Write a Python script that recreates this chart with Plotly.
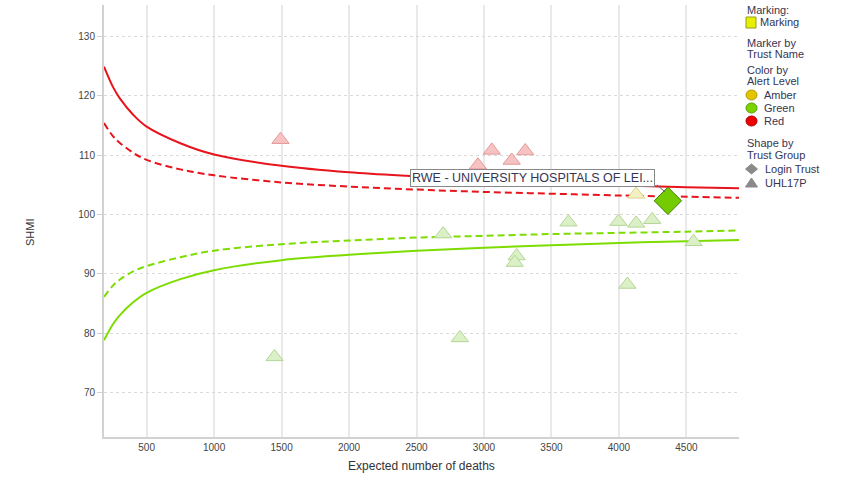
import plotly.graph_objects as go

# ---------------- data ----------------
limit_x = [184, 250, 300, 400, 500, 750, 1000, 1500, 2000, 2500, 3000, 3500, 4000, 4500, 4890]
upper_998 = [124.9, 121.5, 119.6, 116.8, 114.8, 112.0, 110.1, 108.2, 107.1, 106.4, 105.8, 105.3, 104.9, 104.6, 104.4]
upper_95 = [115.4, 113.2, 112.1, 110.4, 109.2, 107.6, 106.6, 105.4, 104.7, 104.2, 103.8, 103.5, 103.2, 103.0, 102.8]
lower_95 = [86.1, 88.0, 89.0, 90.4, 91.3, 92.8, 93.9, 95.0, 95.6, 96.1, 96.4, 96.7, 96.9, 97.1, 97.3]
lower_998 = [78.8, 81.5, 83.0, 85.2, 86.8, 89.1, 90.6, 92.3, 93.2, 93.9, 94.4, 94.8, 95.2, 95.5, 95.7]

red_x = [1492, 2955, 3058, 3205, 3306]
red_y = [112.6, 108.3, 110.8, 109.1, 110.7]

amber_x = [4128]
amber_y = [103.4]

green_x = [1448, 2697, 2821, 3242, 3228, 3626, 3997, 4128, 4247, 4063, 4553]
green_y = [76.0, 96.7, 79.2, 93.0, 91.9, 98.7, 98.8, 98.5, 99.1, 88.2, 95.4]

login_x = [4363]
login_y = [102.3]
login_name = "RWE - UNIVERSITY HOSPITALS OF LEI..."

x_ticks = [500, 1000, 1500, 2000, 2500, 3000, 3500, 4000, 4500]
y_ticks = [70, 80, 90, 100, 110, 120, 130]

# ---------------- layout geometry ----------------
W, H = 843, 478
L, R, T, B = 104, 104, 5, 41
PW, PH = W - L - R, H - T - B


def px(x):
    return (x - L) / PW


def py(y):
    return (H - B - y) / PH


FONT = "Liberation Sans, Arial, sans-serif"
RED = "#e8141c"
GREEN = "#7ddc00"
TXT = "#353552"

fig = go.Figure()

line_dash = "7px,4px"
fig.add_trace(go.Scatter(x=limit_x, y=upper_998, mode="lines", line=dict(color=RED, width=2, shape="spline"), hoverinfo="skip"))
fig.add_trace(go.Scatter(x=limit_x, y=upper_95, mode="lines", line=dict(color=RED, width=2, dash=line_dash, shape="spline"), hoverinfo="skip"))
fig.add_trace(go.Scatter(x=limit_x, y=lower_95, mode="lines", line=dict(color=GREEN, width=2, dash=line_dash, shape="spline"), hoverinfo="skip"))
fig.add_trace(go.Scatter(x=limit_x, y=lower_998, mode="lines", line=dict(color=GREEN, width=2, shape="spline"), hoverinfo="skip"))

fig.add_trace(go.Scatter(x=red_x, y=red_y, mode="markers",
                         marker=dict(symbol="triangle-up", size=15, color="#f6c2c2",
                                     line=dict(color="#e39a9a", width=1))))
fig.add_trace(go.Scatter(x=green_x, y=green_y, mode="markers",
                         marker=dict(symbol="triangle-up", size=15, color="#dcf0c8",
                                     line=dict(color="#b3d696", width=1))))
fig.add_trace(go.Scatter(x=amber_x, y=amber_y, mode="markers",
                         marker=dict(symbol="triangle-up", size=15, color="#f4f0c4",
                                     line=dict(color="#dcd48c", width=1))))
fig.add_trace(go.Scatter(x=login_x, y=login_y, mode="markers",
                         marker=dict(symbol="diamond", size=21, color="#74cc00",
                                     line=dict(color="#3f7d00", width=1))))

annotations = []
annotations.append(dict(x=login_x[0], y=login_y[0], xref="x", yref="y", text=login_name,
                        showarrow=False, xshift=-135, yshift=23,
                        xanchor="center", yanchor="middle",
                        bgcolor="white", bordercolor="#888", borderwidth=1, borderpad=1,
                        font=dict(family=FONT, size=12.5, color=TXT)))

# legend texts
leg = [
    ("Marking:", 745, 10),
    ("Marking", 758, 22),
    ("Marker by", 745, 43),
    ("Trust Name", 745, 54),
    ("Color by", 745, 70),
    ("Alert Level", 745, 81),
    ("Amber", 762, 95),
    ("Green", 762, 108),
    ("Red", 762, 121),
    ("Shape by", 745, 143),
    ("Trust Group", 745, 155),
    ("Login Trust", 763, 169),
    ("UHL17P", 763, 183),
]
for t, x, y in leg:
    annotations.append(dict(x=px(x), y=py(y), xref="paper", yref="paper", text=t,
                            showarrow=False, xanchor="left", yanchor="middle",
                            font=dict(family=FONT, size=11, color=TXT)))

annotations.append(dict(x=px(30), y=py(232), xref="paper", yref="paper", text="SHMI",
                        textangle=-90, showarrow=False, xanchor="center", yanchor="middle",
                        font=dict(family=FONT, size=11, color="#333")))

shapes = []
# leader line from label to diamond
shapes.append(dict(type="line", xref="x", yref="y", xsizemode="pixel", ysizemode="pixel",
                   xanchor=login_x[0], yanchor=login_y[0], x0=-11, x1=-3, y0=16, y1=9,
                   line=dict(color="#666", width=1)))
# marking square
shapes.append(dict(type="rect", xref="paper", yref="paper", x0=px(746), x1=px(756), y0=py(28), y1=py(17),
                   fillcolor="#e6f000", line=dict(color="#9a9a20", width=1)))
# alert circles
for col, lc, y in [("#e3c400", "#b89c00", 95), ("#7ad400", "#5aa000", 108), ("#ee0000", "#b00000", 121)]:
    shapes.append(dict(type="circle", xref="paper", yref="paper", x0=px(746), x1=px(757), y0=py(y + 5), y1=py(y - 5),
                       fillcolor=col, line=dict(color=lc, width=1)))
# diamond
cx, cy = 751.5, 169
shapes.append(dict(type="path", xref="paper", yref="paper",
                   path=f"M {px(cx-6)},{py(cy)} L {px(cx)},{py(cy-5)} L {px(cx+6)},{py(cy)} L {px(cx)},{py(cy+5)} Z",
                   fillcolor="#8a8a8a", line=dict(color="#8a8a8a", width=1)))
cx, cy = 751.5, 183
shapes.append(dict(type="path", xref="paper", yref="paper",
                   path=f"M {px(cx-6)},{py(cy+4)} L {px(cx+6)},{py(cy+4)} L {px(cx)},{py(cy-5)} Z",
                   fillcolor="#8a8a8a", line=dict(color="#8a8a8a", width=1)))

fig.update_layout(
    width=W, height=H,
    margin=dict(l=L, r=R, t=T, b=B),
    paper_bgcolor="white", plot_bgcolor="white",
    showlegend=False,
    font=dict(family=FONT, size=10, color="#444"),
    annotations=annotations,
    shapes=shapes,
    xaxis=dict(range=[184, 4890], tickvals=x_ticks, ticktext=[str(v) for v in x_ticks],
               showgrid=True, gridcolor="#e9e9e9", gridwidth=1.5,
               showline=True, linecolor="#d2d2d2", linewidth=2,
               ticks="", zeroline=False,
               tickfont=dict(family=FONT, size=10, color="#444"),
               title=dict(text="Expected number of deaths", font=dict(family=FONT, size=12, color="#333"), standoff=10)),
    yaxis=dict(range=[62.5, 135.3], tickvals=y_ticks, ticktext=[str(v) for v in y_ticks],
               showgrid=True, gridcolor="#dadada", gridwidth=1, griddash="dot",
               showline=True, linecolor="#d2d2d2", linewidth=2,
               ticks="outside", ticklen=5, tickcolor="#d2d2d2", zeroline=False,
               tickfont=dict(family=FONT, size=10, color="#444")),
)

fig.write_html("out.html", config={"displayModeBar": False},
               post_script="document.body.style.margin='0px';")
